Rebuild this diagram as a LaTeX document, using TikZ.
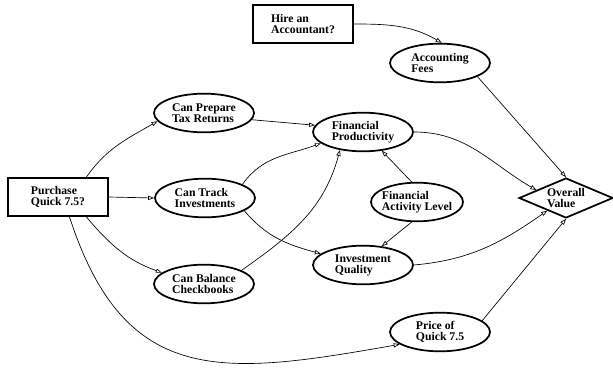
\documentclass[tikz,border=0pt]{standalone}
\usepackage{fontspec}
\setmainfont{Liberation Serif}
\usetikzlibrary{shapes.geometric,arrows.meta}

\begin{document}
\begin{tikzpicture}[x=0.75pt,y=0.75pt,
    label/.style={font=\bfseries\fontsize{8.8pt}{8.2pt}\selectfont, align=left},
    decision/.style={label, draw, line width=1.3pt, rectangle, minimum width=75pt, minimum height=28.5pt, inner sep=0pt},
    chance/.style={label, draw, line width=1.3pt, ellipse, minimum width=75pt, minimum height=29pt, inner sep=0pt},
    valuenode/.style={label, draw, line width=1.3pt, diamond, aspect=2.35, minimum width=70.5pt, minimum height=30pt, inner sep=0pt},
    link/.style={line width=0.5pt, -{Triangle[open, length=4.5pt, width=3.2pt]}}]

        \useasboundingbox (0,0) rectangle (613,-370);

        % Define decision boxes
        \node[decision] (hire) at (303,-24) {Hire an\\Accountant?};
        \node[decision] (purchase) at (58,-197) {Purchase\\Quick 7.5?};

        % Define chance ellipses
        \foreach \name/\x/\y/\text in
        {
            fees/440/63/Accounting\\Fees,
            prep/204/113/Can Prepare\\Tax Returns,
            track/205/198/Can Track\\Investments,
            balance/204/284/Can Balance\\Checkbooks,
            finprod/363/132/Financial\\Productivity,
            invq/363/265/Investment\\Quality,
            price/440/332/Price of\\Quick 7.5
        } {
        \node[chance] (\name) at (\x,-\y) {\text};
        }
        \node[chance, minimum width=69pt, inner xsep=-3pt] (finact) at (417,-202) {Financial\\Activity Level};

        % Define value node
        \node[valuenode] (value) at (566,-198) {Overall\\Value};

        % Define influence arcs
        \draw[link] (hire.east) to[out=0,in=150] (fees.85);
        \draw[link] (fees.-20) -- (value.north);
        \draw[link] (purchase.35) to[out=55,in=210] (prep.190);
        \draw[link] (purchase.east) -- (track.west);
        \draw[link] (purchase.-35) to[out=-50,in=160] (balance.165);
        \draw[link] (purchase.-60) to[out=-72,in=190,looseness=1.3] (price.197);
        \draw[link] (prep.-8) -- (finprod.172);
        \draw[link] (track.20) to[out=55,in=200] (finprod.195);
        \draw[link] (track.-18) to[out=-50,in=165] (invq.165);
        \draw[link] (balance.20) to[out=35,in=255] (finprod.218);
        \draw[link] (finact.105) -- (finprod.-45);
        \draw[link] (finact.-105) -- (invq.45);
        \draw[link] (finprod.east) to[out=0,in=150] (value.165);
        \draw[link] (invq.east) to[out=5,in=215] (value.214);
        \draw[link] (price.15) -- (value.south);
    \end{tikzpicture}
\end{document}
